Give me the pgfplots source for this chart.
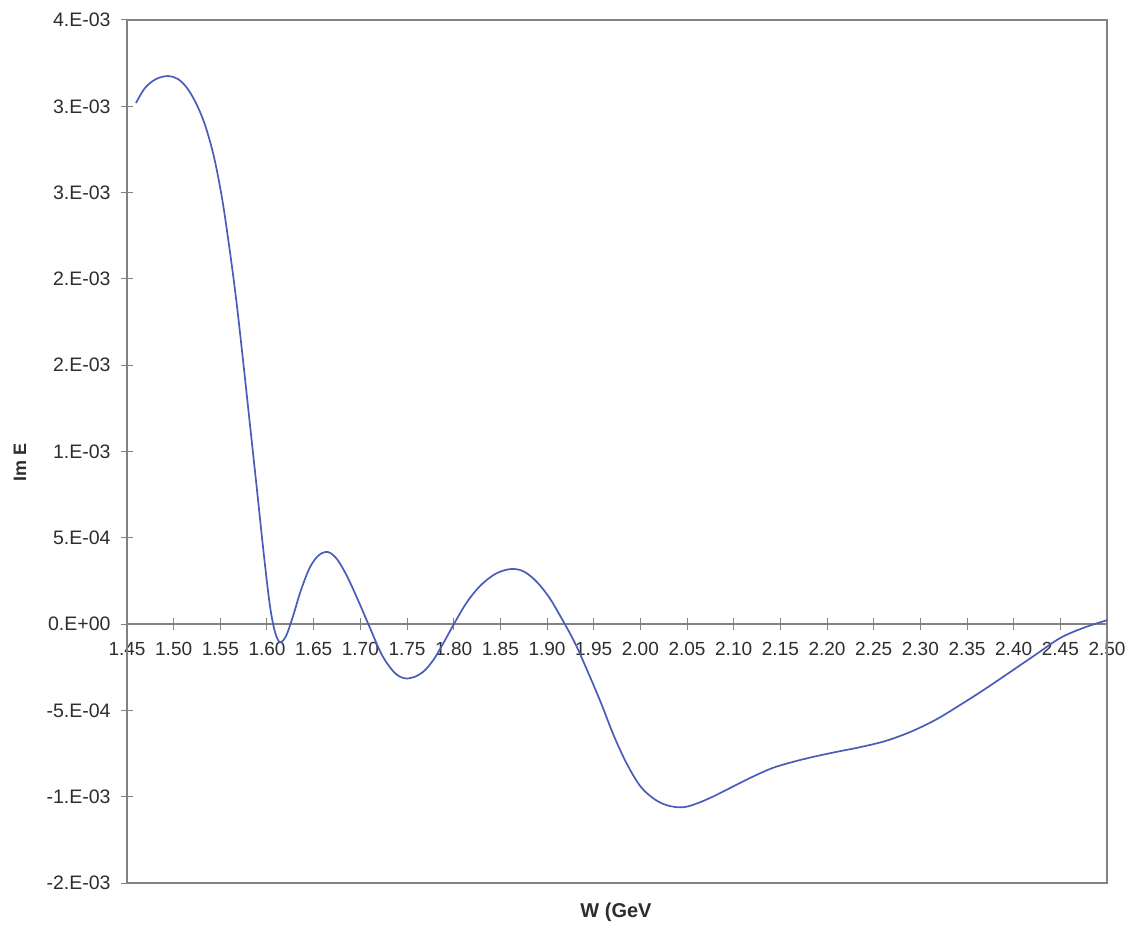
\documentclass[border=0pt]{standalone}
\usepackage{pgfplots}
\pgfplotsset{compat=1.18}
\usepackage{pgfplotstable}
\usepackage{fontspec}
\setmainfont{Liberation Sans}
\usetikzlibrary{calc}
\definecolor{curve}{RGB}{72,92,184}
\definecolor{txt}{RGB}{45,45,45}
\definecolor{framec}{RGB}{130,130,130}
\pgfplotstableread{
x y
1.4596 3.450e-3
1.4693 3.550e-3
1.4811 3.609e-3
1.4939 3.629e-3
1.5046 3.609e-3
1.5143 3.550e-3
1.5239 3.450e-3
1.5336 3.305e-3
1.5432 3.093e-3
1.5518 2.821e-3
1.5593 2.510e-3
1.5668 2.159e-3
1.5743 1.748e-3
1.5818 1.318e-3
1.5893 0.887e-3
1.5968 0.450e-3
1.6032 0.119e-3
1.6086 -0.053e-3
1.6139 -0.119e-3
1.6204 -0.079e-3
1.6279 0.053e-3
1.6364 0.225e-3
1.6461 0.377e-3
1.6557 0.457e-3
1.6654 0.477e-3
1.6750 0.430e-3
1.6857 0.318e-3
1.6975 0.159e-3
1.7104 -0.026e-3
1.7232 -0.205e-3
1.7361 -0.318e-3
1.7468 -0.358e-3
1.7575 -0.351e-3
1.7682 -0.311e-3
1.7789 -0.232e-3
1.7896 -0.119e-3
1.8014 0.013e-3
1.8143 0.146e-3
1.8282 0.252e-3
1.8443 0.331e-3
1.8604 0.364e-3
1.8743 0.351e-3
1.8882 0.285e-3
1.9021 0.179e-3
1.9161 0.033e-3
1.9300 -0.126e-3
1.9439 -0.318e-3
1.9579 -0.523e-3
1.9718 -0.742e-3
1.9857 -0.927e-3
2.0007 -1.079e-3
2.0168 -1.166e-3
2.0318 -1.205e-3
2.0468 -1.212e-3
2.0618 -1.185e-3
2.0789 -1.139e-3
2.0982 -1.079e-3
2.1196 -1.013e-3
2.1411 -0.954e-3
2.1625 -0.914e-3
2.1839 -0.881e-3
2.2086 -0.848e-3
2.2354 -0.815e-3
2.2621 -0.775e-3
2.2889 -0.715e-3
2.3157 -0.636e-3
2.3425 -0.536e-3
2.3693 -0.430e-3
2.3961 -0.318e-3
2.4229 -0.205e-3
2.4496 -0.093e-3
2.4743 -0.026e-3
2.5000 0.026e-3
}\imdata
\begin{document}
\begin{tikzpicture}
\begin{axis}[name=ax, scale only axis, width=980pt, height=863pt,
  xmin=1.45, xmax=2.50, ymin=-0.0017142857, ymax=0.004,
  axis x line=middle, axis y line=left,
  axis line style={-, draw=framec, line width=1.2pt},
  hide obscured x ticks=false,
  xtick={1.45,1.50,1.55,1.60,1.65,1.70,1.75,1.80,1.85,1.90,1.95,2.00,2.05,2.10,2.15,2.20,2.25,2.30,2.35,2.40,2.45,2.50},
  xticklabels={1.45,1.50,1.55,1.60,1.65,1.70,1.75,1.80,1.85,1.90,1.95,2.00,2.05,2.10,2.15,2.20,2.25,2.30,2.35,2.40,2.45,2.50},
  ytick={-0.0017142857,-0.0011428571,-0.0005714286,0,0.0005714286,0.0011428571,0.0017142857,0.0022857143,0.0028571429,0.0034285714,0.004},
  yticklabels={-2.E-03,-1.E-03,-5.E-04,0.E+00,5.E-04,1.E-03,2.E-03,2.E-03,3.E-03,3.E-03,4.E-03},
  scaled y ticks=false,
  tick align=center, major tick length=12pt,
  tick style={draw=framec, line width=1pt},
  every tick label/.append style={font=\fontsize{19}{22}\selectfont, text=txt},
  xticklabel style={yshift=-9pt},
  yticklabel style={xshift=-7pt, font=\fontsize{19.5}{22}\selectfont},
  clip=false]
\draw[framec, line width=1.2pt] (rel axis cs:0,0) rectangle (rel axis cs:1,1);
\addplot[curve, line width=1.7pt, smooth, tension=0.55] table[x=x,y=y] {\imdata};
\end{axis}
\node[font=\bfseries\fontsize{20}{24}\selectfont, text=txt] at ($(ax.south)+(-1pt,-29pt)$) {W (GeV};
\node[font=\bfseries\fontsize{18}{22}\selectfont, text=txt, rotate=90] at ($(ax.west)+(-107pt,-11pt)$) {Im E};
\pgfresetboundingbox
\path[use as bounding box] ($(ax.south west)+(-127pt,-52pt)$) rectangle ($(ax.north east)+(34pt,20pt)$);
\end{tikzpicture}
\end{document}
